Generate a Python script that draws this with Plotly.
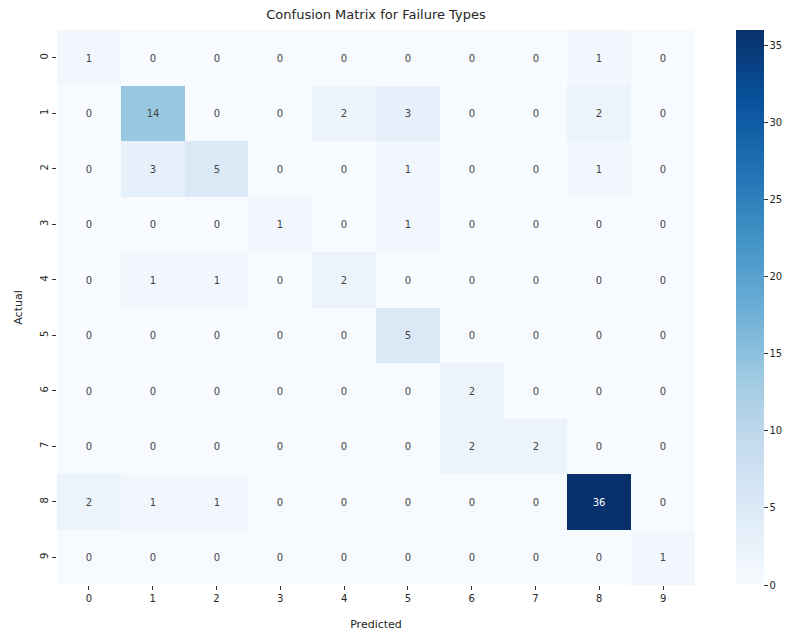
import plotly.graph_objects as go

labels = ["0", "1", "2", "3", "4", "5", "6", "7", "8", "9"]
matrix = [
    [1, 0, 0, 0, 0, 0, 0, 0, 1, 0],
    [0, 14, 0, 0, 2, 3, 0, 0, 2, 0],
    [0, 3, 5, 0, 0, 1, 0, 0, 1, 0],
    [0, 0, 0, 1, 0, 1, 0, 0, 0, 0],
    [0, 1, 1, 0, 2, 0, 0, 0, 0, 0],
    [0, 0, 0, 0, 0, 5, 0, 0, 0, 0],
    [0, 0, 0, 0, 0, 0, 2, 0, 0, 0],
    [0, 0, 0, 0, 0, 0, 2, 2, 0, 0],
    [2, 1, 1, 0, 0, 0, 0, 0, 36, 0],
    [0, 0, 0, 0, 0, 0, 0, 0, 0, 1],
]
cbar_ticks = [0, 5, 10, 15, 20, 25, 30, 35]

blues = [
    [0.0, "#f7fbff"], [0.125, "#deebf7"], [0.25, "#c6dbef"], [0.375, "#9ecae1"],
    [0.5, "#6baed6"], [0.625, "#4292c6"], [0.75, "#2171b5"], [0.875, "#08519c"],
    [1.0, "#08306b"],
]

font = "DejaVu Sans"
# page body has an 8px margin, so the figure is shrunk and shifted to match
W, H = 785, 626
L, R, T, B = 49, 98, 22, 49
plot_w = W - L - R

fig = go.Figure(go.Heatmap(
    z=matrix, x=labels, y=labels,
    colorscale=blues, zmin=0, zmax=36,
    texttemplate="%{z}", textfont=dict(family=font, size=10),
    xgap=0, ygap=0,
    colorbar=dict(
        thickness=28, len=1, lenmode="fraction", y=0.5, yanchor="middle",
        x=1 + (728 - (W - R)) / plot_w, xanchor="left", xpad=0, ypad=0,
        tickvals=cbar_ticks, ticks="outside", ticklen=4, tickwidth=1,
        tickcolor="#333", outlinewidth=0,
        tickfont=dict(family=font, size=10, color="#262626"),
    ),
))

fig.update_layout(
    width=W, height=H,
    margin=dict(l=L, r=R, t=T, b=B, autoexpand=False),
    paper_bgcolor="white", plot_bgcolor="white",
    title=dict(text="Confusion Matrix for Failure Types", x=(L + plot_w / 2) / W,
               xanchor="center", y=1 - 6 / H, yanchor="middle",
               font=dict(family=font, size=13, color="#262626")),
    xaxis=dict(title=dict(text="Predicted", font=dict(family=font, size=11, color="#262626"), standoff=17),
               ticks="outside", ticklen=4, tickcolor="#333", showgrid=False, zeroline=False,
               tickfont=dict(family=font, size=10, color="#262626")),
    yaxis=dict(title=dict(text="Actual", font=dict(family=font, size=11, color="#262626"), standoff=14),
               autorange="reversed", tickangle=-90,
               ticks="outside", ticklen=4, tickcolor="#333", showgrid=False, zeroline=False,
               tickfont=dict(family=font, size=10, color="#262626")),
)

fig.write_html("out.html")
